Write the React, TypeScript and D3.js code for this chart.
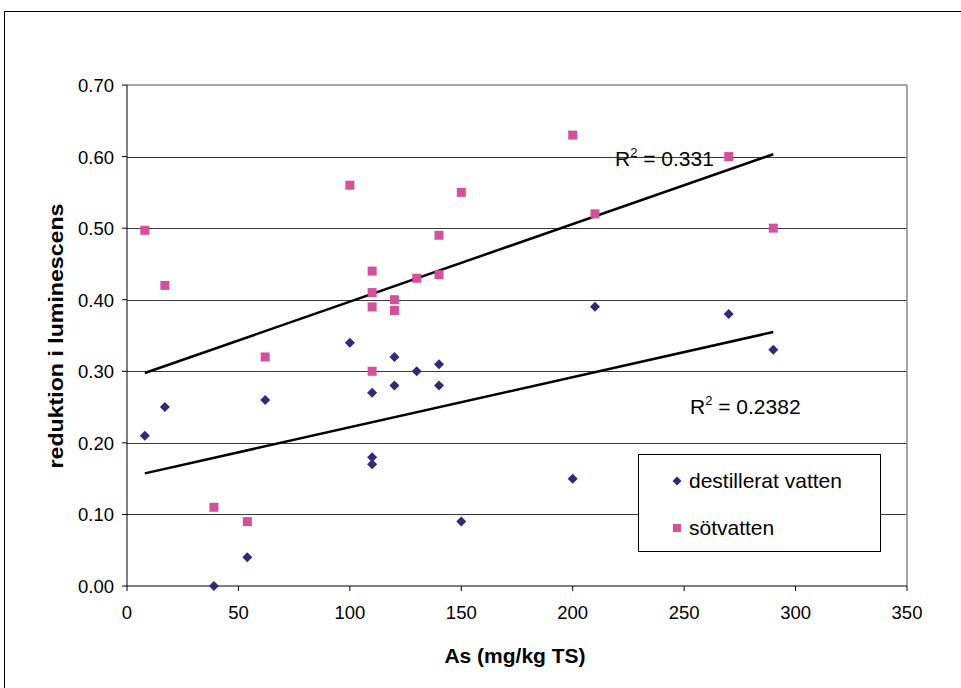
import React from "react";
import * as d3 from "d3";

const destX = [8, 17, 39, 54, 62, 100, 110, 110, 110, 120, 120, 130, 140, 140, 150, 200, 210, 270, 290];
const destY = [0.21, 0.25, 0.0, 0.04, 0.26, 0.34, 0.27, 0.18, 0.17, 0.32, 0.28, 0.30, 0.31, 0.28, 0.09, 0.15, 0.39, 0.38, 0.33];
const sotX = [8, 17, 39, 54, 62, 100, 110, 110, 110, 110, 120, 120, 130, 140, 140, 150, 200, 210, 270, 290];
const sotY = [0.497, 0.42, 0.11, 0.09, 0.32, 0.56, 0.44, 0.41, 0.39, 0.30, 0.40, 0.385, 0.43, 0.49, 0.435, 0.55, 0.63, 0.52, 0.60, 0.50];
const xTicks = [0, 50, 100, 150, 200, 250, 300, 350];
const yTicks = [0, 0.1, 0.2, 0.3, 0.4, 0.5, 0.6, 0.7];
const seriesNames = ["destillerat vatten", "sötvatten"];
const r2Labels = ["0.2382", "0.331"];

const NAVY = "#2D2B7C";
const PINK = "#D64F9B";
const FONT = "'Liberation Sans', Arial, sans-serif";

function regress(xs: number[], ys: number[]) {
  const mx = d3.mean(xs)!;
  const my = d3.mean(ys)!;
  let sxy = 0, sxx = 0;
  xs.forEach((x, i) => {
    sxy += (x - mx) * (ys[i] - my);
    sxx += (x - mx) * (x - mx);
  });
  const b = sxy / sxx;
  const a = my - b * mx;
  return { a, b, x0: d3.min(xs)!, x1: d3.max(xs)! };
}

export default function App() {
  const x = d3.scaleLinear().domain([0, 350]).range([127, 907]);
  const y = d3.scaleLinear().domain([0, 0.7]).range([586, 85]);
  const regD = regress(destX, destY);
  const regS = regress(sotX, sotY);
  const diamond = (cx: number, cy: number, r = 5) =>
    `M${cx},${cy - r}L${cx + r},${cy}L${cx},${cy + r}L${cx - r},${cy}Z`;

  return (
    <svg width={961} height={688} style={{ position: "absolute", left: 0, top: 0, background: "#fff" }} fontFamily={FONT}>
      <rect x={0} y={0} width={961} height={688} fill="#fff" />
      <rect x={4.5} y={11.5} width={1000} height={1000} fill="none" stroke="#000" strokeWidth={1} />
      {/* gridlines */}
      {yTicks.filter((t) => t > 0 && t < 0.7).map((t) => (
        <line key={t} x1={x(0)} x2={x(350)} y1={Math.round(y(t)) + 0.5} y2={Math.round(y(t)) + 0.5} stroke="#3a3a3a" strokeWidth={1} />
      ))}
      {/* plot border top & right */}
      <line x1={x(0)} x2={x(350)} y1={y(0.7)} y2={y(0.7)} stroke="#8a8a8a" strokeWidth={1.5} />
      <line x1={x(350)} x2={x(350)} y1={y(0.7)} y2={y(0)} stroke="#8a8a8a" strokeWidth={1.5} />
      {/* axes */}
      <line x1={x(0)} x2={x(0)} y1={y(0.7)} y2={y(0)} stroke="#000" strokeWidth={1} />
      <line x1={x(0)} x2={x(350)} y1={y(0)} y2={y(0)} stroke="#000" strokeWidth={1} />
      {yTicks.map((t) => (
        <g key={t}>
          <line x1={x(0) - 5} x2={x(0)} y1={y(t)} y2={y(t)} stroke="#000" />
          <text x={114} y={y(t) + 7} textAnchor="end" fontSize={18.5}>{t.toFixed(2)}</text>
        </g>
      ))}
      {xTicks.map((t) => (
        <g key={t}>
          <line x1={x(t)} x2={x(t)} y1={y(0)} y2={y(0) + 5} stroke="#000" />
          <text x={x(t)} y={619} textAnchor="middle" fontSize={18.5}>{t}</text>
        </g>
      ))}
      {/* trend lines */}
      {[regD, regS].map((r, i) => (
        <line key={i} x1={x(r.x0)} y1={y(r.a + r.b * r.x0)} x2={x(r.x1)} y2={y(r.a + r.b * r.x1)} stroke="#000" strokeWidth={2.5} />
      ))}
      {/* points */}
      {sotX.map((v, i) => (
        <rect key={"s" + i} x={x(v) - 4.5} y={y(sotY[i]) - 4.5} width={9} height={9} fill={PINK} />
      ))}
      {destX.map((v, i) => (
        <path key={"d" + i} d={diamond(x(v), y(destY[i]))} fill={NAVY} />
      ))}
      {/* R2 labels */}
      <text x={615} y={166} fontSize={21}>R<tspan dy={-9} fontSize={13}>2</tspan><tspan dy={9}> = {r2Labels[1]}</tspan></text>
      <text x={690} y={414} fontSize={21}>R<tspan dy={-9} fontSize={13}>2</tspan><tspan dy={9}> = {r2Labels[0]}</tspan></text>
      {/* legend */}
      <rect x={638.5} y={454.5} width={242} height={97} fill="#fff" stroke="#000" strokeWidth={1} />
      <path d={diamond(677, 481, 4.5)} fill={NAVY} />
      <text x={689} y={488} fontSize={21}>{seriesNames[0]}</text>
      <rect x={673} y={524} width={8} height={8} fill={PINK} />
      <text x={689} y={535} fontSize={21}>{seriesNames[1]}</text>
      {/* axis titles */}
      <text x={515} y={663} textAnchor="middle" fontSize={21} fontWeight="bold">As (mg/kg TS)</text>
      <text transform={`translate(63,336) rotate(-90)`} textAnchor="middle" fontSize={21} fontWeight="bold" textLength={265} lengthAdjust="spacingAndGlyphs">reduktion i luminescens</text>
    </svg>
  );
}
